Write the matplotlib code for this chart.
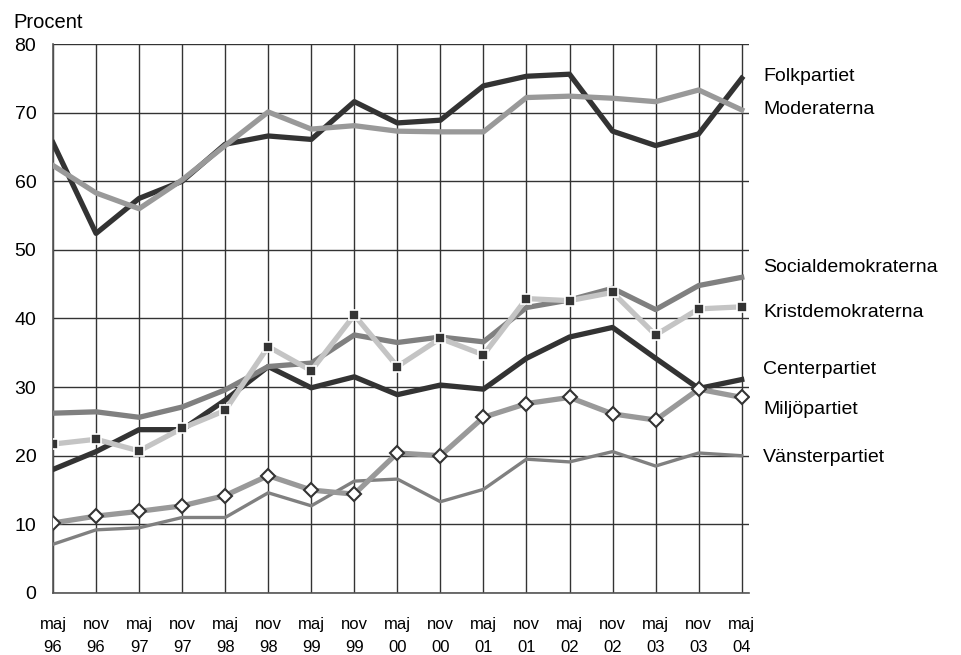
import matplotlib.pyplot as plt
import numpy as np

plt.rcParams['font.family'] = ['Liberation Sans', 'DejaVu Sans']

# x categories
periods = ["maj\n96", "nov\n96", "maj\n97", "nov\n97", "maj\n98", "nov\n98",
           "maj\n99", "nov\n99", "maj\n00", "nov\n00", "maj\n01", "nov\n01",
           "maj\n02", "nov\n02", "maj\n03", "nov\n03", "maj\n04"]

folkpartiet = [65.6, 52.4, 57.5, 60.0, 65.4, 66.6, 66.1, 71.6, 68.5, 68.9,
               73.9, 75.3, 75.6, 67.3, 65.2, 66.9, 75.0]
moderaterna = [62.3, 58.3, 56.0, 60.2, 65.2, 70.1, 67.6, 68.1, 67.3, 67.2,
               67.2, 72.2, 72.4, 72.1, 71.6, 73.3, 70.4]
socialdemokraterna = [26.2, 26.4, 25.6, 27.1, 29.6, 33.0, 33.5, 37.6, 36.5, 37.3,
                      36.6, 41.6, 42.7, 44.4, 41.3, 44.8, 46.0]
kristdemokraterna = [21.7, 22.4, 20.7, 24.0, 26.6, 35.9, 32.4, 40.5, 33.0, 37.1,
                     34.7, 42.9, 42.6, 43.8, 37.6, 41.4, 41.7]
centerpartiet = [18.0, 20.6, 23.8, 23.8, 28.1, 33.0, 29.9, 31.5, 28.9, 30.3,
                 29.7, 34.2, 37.3, 38.7, 34.2, 29.8, 31.1]
miljopartiet = [10.2, 11.2, 11.9, 12.7, 14.2, 17.1, 15.0, 14.4, 20.4, 20.0,
                25.6, 27.6, 28.5, 26.1, 25.2, 29.7, 28.5]
vansterpartiet = [7.1, 9.2, 9.5, 11.0, 11.0, 14.6, 12.7, 16.3, 16.6, 13.3,
                  15.1, 19.5, 19.1, 20.6, 18.5, 20.4, 20.0]

fig = plt.figure(figsize=(9.62, 6.55), dpi=100)
ax = fig.add_axes([0.0551, 0.0947, 0.7235, 0.8381])

x = np.arange(len(periods))
dark = "#333333"
mid = "#808080"
light = "#999999"
pale = "#c4c4c4"

ax.plot(x, vansterpartiet, color=mid, lw=2.4, zorder=3)
ax.plot(x, centerpartiet, color=dark, lw=3.8, zorder=4)
ax.plot(x, socialdemokraterna, color=mid, lw=3.8, zorder=5)
ax.plot(x, kristdemokraterna, color=pale, lw=3.8, zorder=6,
        marker="s", markersize=7, markerfacecolor=dark,
        markeredgecolor="white", markeredgewidth=1.2)
ax.plot(x, miljopartiet, color=light, lw=3.8, zorder=7,
        marker="D", markersize=7.5, markerfacecolor="white",
        markeredgecolor=dark, markeredgewidth=1.5)
ax.plot(x, folkpartiet, color=dark, lw=3.8, zorder=4)
ax.plot(x, moderaterna, color=light, lw=3.8, zorder=5)

# series labels at the right
labels = [("Folkpartiet", 75.2), ("Moderaterna", 70.4),
          ("Socialdemokraterna", 47.4), ("Kristdemokraterna", 40.9),
          ("Centerpartiet", 32.5), ("Miljöpartiet", 26.7),
          ("Vänsterpartiet", 19.7)]
for name, ypos in labels:
    ax.text(16.5, ypos, name, fontsize=14, va="center", ha="left",
            clip_on=False)

ax.set_xlim(0, 16.17)
ax.set_ylim(0, 80)
ax.set_yticks(range(0, 81, 10))
ax.set_xticks(x)
ax.set_xticklabels(periods, fontsize=12, linespacing=1.7)
ax.tick_params(axis="y", length=0, pad=12, labelsize=14)
ax.tick_params(axis="x", length=0, pad=17)

ax.grid(True, color="#333333", lw=1.0)
ax.set_axisbelow(True)
for side in ["top", "right"]:
    ax.spines[side].set_visible(False)
for side in ["left", "bottom"]:
    ax.spines[side].set_color("#555555")
    ax.spines[side].set_linewidth(1.2)

fig.text(13 / 962, 1 - 27.5 / 655, "Procent", fontsize=14.5, va="baseline",
         ha="left")

fig.savefig("out.png", dpi=100)
